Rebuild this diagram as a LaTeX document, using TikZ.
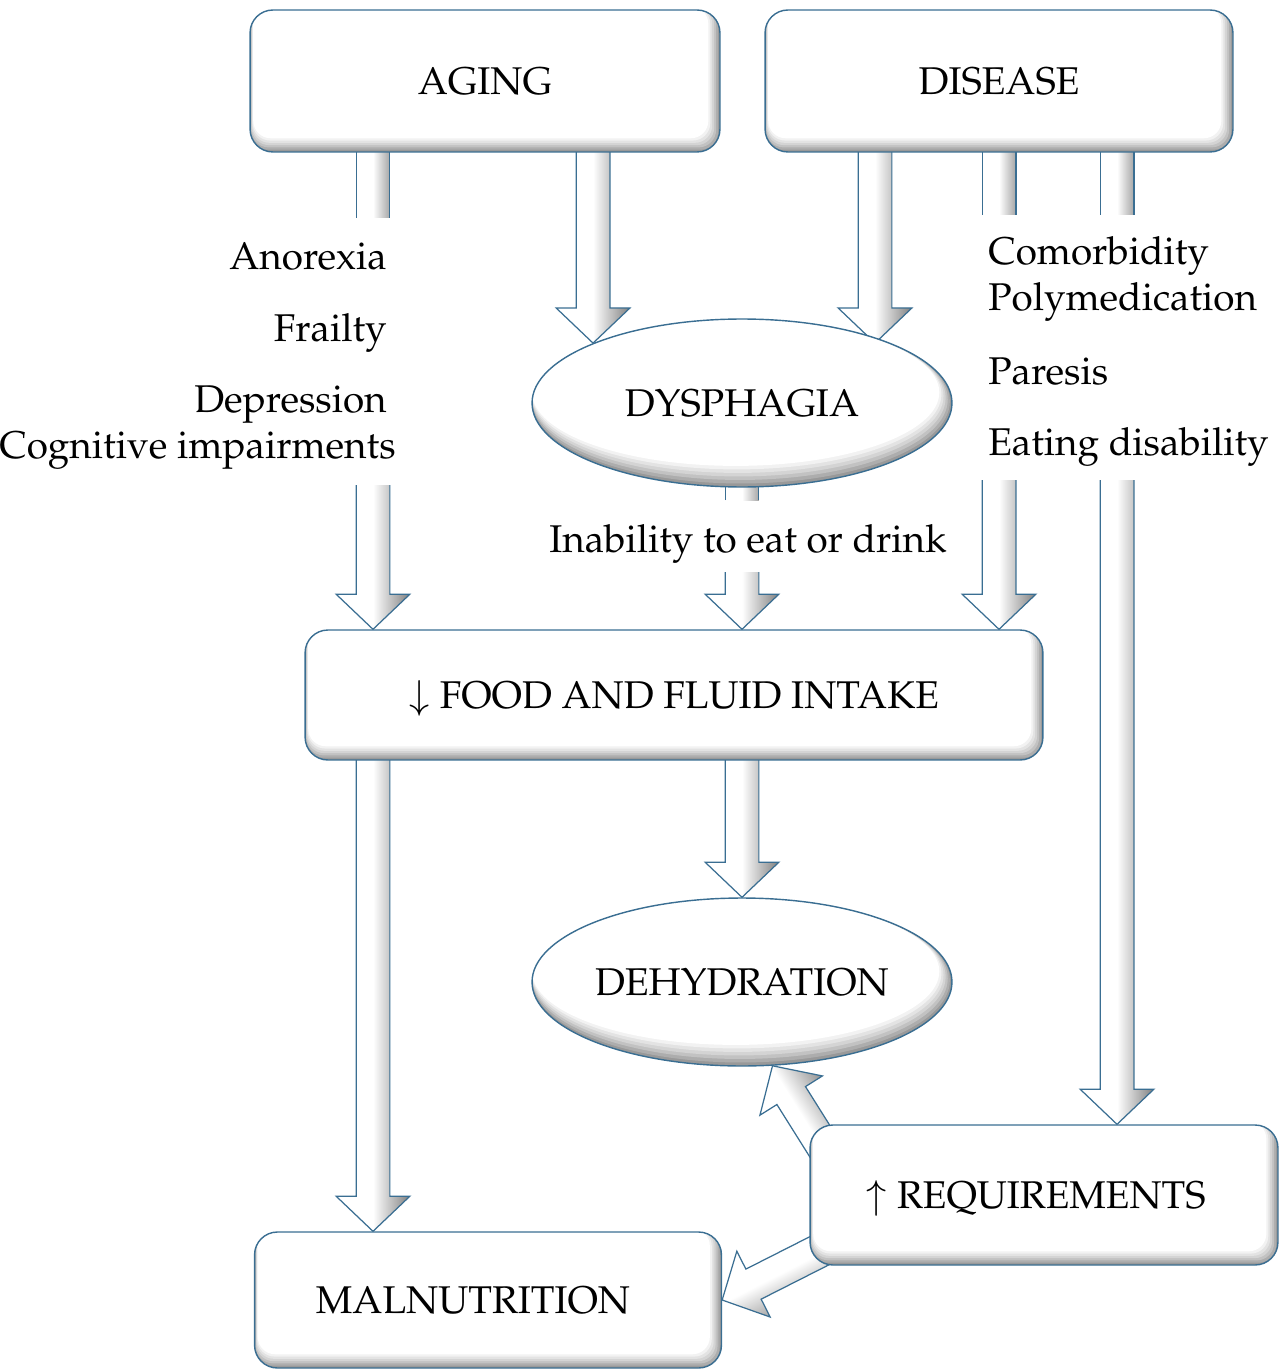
\documentclass[tikz,border=0pt]{standalone}
\usepackage[T1]{fontenc}
\usepackage{mathpazo}
\usetikzlibrary{calc,shapes.geometric}
\definecolor{edgeblue}{HTML}{3A6E92}

\pgfdeclarelayer{back}
\pgfsetlayers{back,main}

\tikzset{
  txt/.style={font=\fontsize{22}{26}\selectfont},
  box/.style={txt, draw=edgeblue, line width=0.8pt, rounded corners=13pt, fill=white,
    text height=15.2pt, text depth=0pt,
    path picture={
      \fill[black!40] (path picture bounding box.south west) rectangle (path picture bounding box.north east);
      \foreach \k/\c in {1/32,2/24,3/17,4/11,5/5,6/0}
        \fill[black!\c, rounded corners=10pt] ($(path picture bounding box.south west)+(0.3*\k pt,1.3*\k pt)$) rectangle ($(path picture bounding box.north east)+(-1.1*\k pt,2pt)$);
    }},
  oval/.style={txt, ellipse, draw=edgeblue, line width=0.8pt, fill=white, inner sep=0pt,
    minimum width=8.4cm, minimum height=3.36cm, text height=15.2pt, text depth=0pt,
    path picture={
      \fill[black!40] (path picture bounding box.south west) rectangle (path picture bounding box.north east);
      \foreach \k/\c in {1/32,2/24,3/17,4/11,5/5,6/0}
        \fill[black!\c] ($(path picture bounding box.center)+(-0.6*\k pt,1.0*\k pt)$) ellipse [x radius=4.2cm-0.6*\k pt, y radius=1.68cm-1.0*\k pt];
    }},
  lab/.style={txt, inner sep=0pt},
  arrowshade/.style={left color=white, right color=black!50, middle color=white},
  shaftshade/.style={left color=white, right color=black!35, middle color=white},
  arrowline/.style={draw=edgeblue, line width=0.7pt, line join=miter},
}

% hollow block arrow: [shading angle]{from}{tip}
\newcommand{\fatarrow}[3][90]{%
  \coordinate (fa0) at #2;
  \coordinate (fa8) at #3;
  \coordinate (fahb) at ($(fa8)!20pt!(fa0)$);
  \coordinate (fa1) at ($(fa0)!9.6pt!90:(fa8)$);
  \coordinate (fa2) at ($(fahb)!9.6pt!90:(fa8)$);
  \coordinate (fa3) at ($(fahb)!21pt!90:(fa8)$);
  \coordinate (fa5) at ($(fahb)!21pt!-90:(fa8)$);
  \coordinate (fa6) at ($(fahb)!9.6pt!-90:(fa8)$);
  \coordinate (fa7) at ($(fa0)!9.6pt!-90:(fa8)$);
  \shade[arrowshade, shading angle=#1] (fa1) -- (fa2) -- (fa3) -- (fa8) -- (fa5) -- (fa6) -- (fa7) -- cycle;
  \draw[arrowline] (fa1) -- (fa2) -- (fa3) -- (fa8) -- (fa5) -- (fa6) -- (fa7);
}
% open shaft piece: {from}{to}
\newcommand{\fatshaft}[2]{%
  \coordinate (fs0) at #1;
  \coordinate (fs9) at #2;
  \coordinate (fs1) at ($(fs0)!9.6pt!90:(fs9)$);
  \coordinate (fs2) at ($(fs9)!9.6pt!-90:(fs0)$);
  \coordinate (fs3) at ($(fs9)!9.6pt!90:(fs0)$);
  \coordinate (fs4) at ($(fs0)!9.6pt!-90:(fs9)$);
  \shade[shaftshade] (fs1) -- (fs2) -- (fs3) -- (fs4) -- cycle;
  \draw[arrowline] (fs1) -- (fs2) (fs3) -- (fs4);
}

\begin{document}
\begin{tikzpicture}[x=0.02cm, y=0.02cm]
  \useasboundingbox (0,0) rectangle (1283,-1371);

  % boxes and ovals
  \node[box, minimum width=9.4cm, minimum height=2.84cm] (aging) at (485,-81) {AGING};
  \node[box, minimum width=9.36cm, minimum height=2.84cm] (disease) at (999,-81) {DISEASE};
  \node[oval] (dysph) at (742,-403) {DYSPHAGIA};
  \node[box, minimum width=14.76cm, minimum height=2.6cm] (intake) at (674,-695) {$\downarrow$ FOOD AND FLUID INTAKE};
  \node[oval] (dehyd) at (742,-982) {DEHYDRATION};
  \node[box, minimum width=9.36cm, minimum height=2.8cm] (req) at (1044,-1195) {$\uparrow$ REQUIREMENTS\kern0.32cm};
  \node[box, minimum width=9.34cm, minimum height=2.72cm] (maln) at (488,-1300) {MALNUTRITION\kern0.6cm};

  % factors
  \node[lab, anchor=base east] (anorexia) at (387,-270) {Anorexia};
  \node[lab, anchor=base east] (frailty) at (387,-342) {Frailty};
  \node[lab, anchor=base east] (depress) at (387,-412) {Depression};
  \node[lab, anchor=base east] (cognit) at (396,-458) {Cognitive impairments};
  \node[lab, anchor=base west] (comorb) at (988,-265) {Comorbidity};
  \node[lab, anchor=base west] (polymed) at (988,-311) {Polymedication};
  \node[lab, anchor=base west] (paresis) at (988,-384) {Paresis};
  \node[lab, anchor=base west] (eating) at (988,-455) {Eating disability};
  \node[lab, anchor=base] (inability) at (748,-552) {Inability to eat or drink};

  % ends of the broken arrows
  \coordinate (anoTop) at (373,-218);
  \coordinate (anoBot) at (373,-485);
  \coordinate (disCol) at (875,-81);
  \coordinate (comTop) at (999,-215);
  \coordinate (comBot) at (999,-480);
  \coordinate (eatTop) at (1117,-215);
  \coordinate (eatBot) at (1117,-480);
  \coordinate (inaTop) at (742,-500);
  \coordinate (inaBot) at (742,-572);

  \begin{pgfonlayer}{back}
    \fatshaft{(aging.center -| anoTop)}{(anoTop)}
    \fatarrow{(anoBot)}{(intake.north -| anoBot)}
    \fatarrow{(aging.center -| dysph.north west)}{(dysph.north west)}
    \fatarrow{(disCol)}{(dysph.north east -| disCol)}
    \fatshaft{(disease.center -| comTop)}{(comTop)}
    \fatarrow{(comBot)}{(intake.north -| comBot)}
    \fatshaft{(disease.center -| eatTop)}{(eatTop)}
    \fatarrow{(eatBot)}{(req.north -| eatBot)}
    \fatshaft{(dysph.center)}{(inaTop)}
    \fatarrow{(inaBot)}{(intake.north -| inaBot)}
    \fatarrow{(intake.center -| dehyd.north)}{(dehyd.north)}
    \fatarrow{(intake.center -| anoBot)}{(maln.north -| anoBot)}
    \fatarrow[122]{($(req.north west)+(20,-32)$)}{(dehyd.-70)}
    \fatarrow[27]{($(req.south west)+(20,20)$)}{(maln.east)}
  \end{pgfonlayer}
\end{tikzpicture}
\end{document}
